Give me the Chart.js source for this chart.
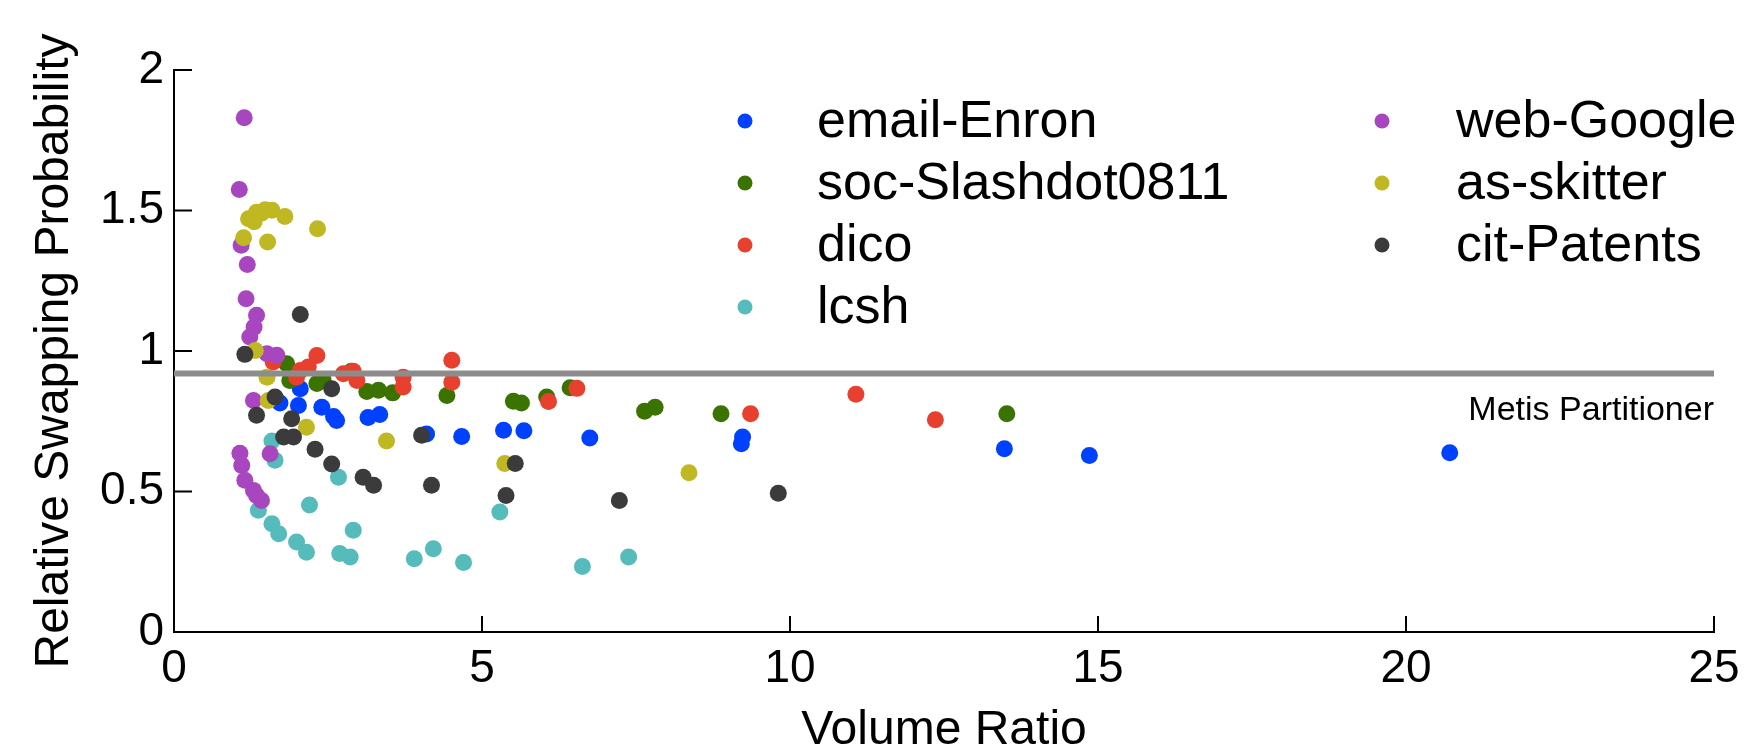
<!DOCTYPE html>
<html>
<head>
<meta charset="utf-8">
<script src="https://cdn.jsdelivr.net/npm/chart.js@4.4.0/dist/chart.umd.min.js"></script>
<style>
  body { margin: 0; background: #fff; }
  #wrap { width: 1759px; height: 751px; }
</style>
</head>
<body>
<div id="wrap"><canvas id="myChart" width="1759" height="751"></canvas></div>
<script>
// series: [volume ratio, relative swapping probability]
const enron = [
  [1.72, 0.815], [2.02, 0.806], [2.05, 0.866], [2.40, 0.80], [2.59, 0.767], [2.64, 0.753],
  [3.15, 0.763], [3.34, 0.774], [4.10, 0.705], [4.67, 0.696], [5.35, 0.718], [5.68, 0.716],
  [6.75, 0.690], [9.21, 0.670], [9.23, 0.694], [13.48, 0.652], [14.86, 0.628], [20.71, 0.638]
];
const slashdot = [
  [1.83, 0.955], [1.88, 0.895], [2.32, 0.884], [2.42, 0.897], [2.88, 0.928], [3.13, 0.856],
  [3.32, 0.860], [3.55, 0.851], [4.43, 0.842], [5.51, 0.821], [5.64, 0.815], [6.05, 0.836],
  [6.43, 0.869], [7.64, 0.786], [7.81, 0.800], [8.88, 0.777], [13.52, 0.777]
];
const dico = [
  [1.61, 0.961], [1.99, 0.907], [2.05, 0.931], [2.18, 0.943], [2.32, 0.984], [2.75, 0.919],
  [2.91, 0.928], [2.97, 0.895], [3.72, 0.907], [3.72, 0.872], [4.51, 0.967], [4.51, 0.889],
  [6.08, 0.820], [6.54, 0.867], [9.36, 0.777], [11.07, 0.846], [12.36, 0.755]
];
const lcsh = [
  [1.37, 0.433], [1.59, 0.385], [1.59, 0.680], [1.64, 0.611], [1.70, 0.350], [1.99, 0.320],
  [2.15, 0.284], [2.20, 0.452], [2.67, 0.551], [2.69, 0.279], [2.86, 0.267], [2.91, 0.362],
  [3.90, 0.261], [4.21, 0.296], [4.70, 0.247], [5.29, 0.427], [6.63, 0.233], [7.38, 0.267]
];
const webGoogle = [
  [1.14, 1.830], [1.06, 1.575], [1.09, 1.376], [1.19, 1.308], [1.17, 1.186], [1.34, 1.127],
  [1.30, 1.085], [1.23, 1.050], [1.51, 0.990], [1.67, 0.985], [1.29, 0.824], [1.07, 0.636],
  [1.10, 0.593], [1.15, 0.540], [1.29, 0.504], [1.34, 0.486], [1.42, 0.468], [1.56, 0.634]
];
const skitter = [
  [1.13, 1.403], [1.21, 1.471], [1.30, 1.460], [1.34, 1.494], [1.42, 1.490], [1.48, 1.503],
  [1.59, 1.501], [1.80, 1.479], [1.52, 1.388], [2.33, 1.435], [1.32, 1.002], [1.51, 0.907],
  [1.53, 0.824], [2.15, 0.729], [3.45, 0.680], [5.37, 0.600], [8.36, 0.567]
];
const patents = [
  [2.05, 1.130], [1.15, 0.988], [1.64, 0.836], [2.56, 0.866], [1.34, 0.771], [1.91, 0.759],
  [1.78, 0.694], [1.94, 0.694], [2.29, 0.650], [2.56, 0.598], [3.07, 0.551], [3.24, 0.522],
  [4.02, 0.700], [4.18, 0.522], [5.54, 0.600], [5.39, 0.486], [7.23, 0.468], [9.81, 0.494]
];

const names = ["email-Enron", "soc-Slashdot0811", "dico", "lcsh", "web-Google", "as-skitter", "cit-Patents"];
const colors = ["#0040ff", "#3a7300", "#e8402e", "#55bbbb", "#a846c0", "#c0b822", "#3b3b3b"];
const series = [enron, slashdot, dico, lcsh, webGoogle, skitter, patents];

const metisLevel = 0.92;
const metisLabel = "Metis Partitioner";
const xTicks = [0, 5, 10, 15, 20, 25];
const yTicks = [0, 0.5, 1, 1.5, 2];

Chart.defaults.font.family = "'Liberation Sans', Arial, Helvetica, sans-serif";
Chart.defaults.color = "#000";

let datasets = series.map((pts, i) => ({
  label: names[i],
  data: pts.map((p) => ({ x: p[0], y: p[1] })),
  pointRadius: 8.5,
  pointHoverRadius: 8.5,
  pointBackgroundColor: colors[i],
  pointBorderWidth: 0,
  showLine: false,
  order: series.length - i, // later series on top, like the original
}));

datasets.push({
  label: metisLabel,
  data: [{ x: xTicks[0], y: metisLevel }, { x: xTicks[xTicks.length - 1], y: metisLevel }],
  showLine: true,
  borderColor: "#8c8c8c",
  borderWidth: 6,
  pointRadius: 0,
  order: -1,
});

// ticks pointing into the plot, plus the legend and line label
const extras = {
  id: "extras",
  afterDraw(chart) {
    const ctx = chart.ctx;
    const xs = chart.scales.x;
    const ys = chart.scales.y;
    ctx.save();
    ctx.strokeStyle = "#000";
    ctx.lineWidth = 2;
    xTicks.forEach((v) => {
      const px = xs.getPixelForValue(v);
      ctx.beginPath();
      ctx.moveTo(px, ys.bottom);
      ctx.lineTo(px, ys.bottom - 16);
      ctx.stroke();
    });
    yTicks.forEach((v) => {
      const py = ys.getPixelForValue(v);
      ctx.beginPath();
      ctx.moveTo(xs.left, py);
      ctx.lineTo(xs.left + 18, py);
      ctx.stroke();
    });

    // legend, two columns
    ctx.font = "52px 'Liberation Sans', Arial, sans-serif";
    ctx.textBaseline = "middle";
    ctx.textAlign = "left";
    names.forEach((n, i) => {
      const col = i < 4 ? 0 : 1;
      const row = i < 4 ? i : i - 4;
      const mx = col === 0 ? 745 : 1382;
      const tx = col === 0 ? 817 : 1456;
      const y = 121 + row * 62;
      ctx.fillStyle = colors[i];
      ctx.beginPath();
      ctx.arc(mx, y, 7.5, 0, Math.PI * 2);
      ctx.fill();
      ctx.fillStyle = "#000";
      ctx.fillText(n, tx, y + 2);
    });

    ctx.font = "34px 'Liberation Sans', Arial, sans-serif";
    ctx.textAlign = "right";
    ctx.fillText(metisLabel, xs.right, ys.getPixelForValue(metisLevel) + 37);
    ctx.restore();
  },
};

new Chart(document.getElementById("myChart"), {
  type: "scatter",
  data: { datasets: datasets },
  options: {
    responsive: false,
    animation: false,
    devicePixelRatio: 1,
    events: [],
    layout: { autoPadding: false, padding: { top: 70, right: 45, left: 0, bottom: 0 } },
    plugins: { legend: { display: false }, tooltip: { enabled: false } },
    scales: {
      x: {
        type: "linear",
        min: xTicks[0],
        max: xTicks[xTicks.length - 1],
        ticks: { stepSize: 5, font: { size: 46 }, padding: 10, maxRotation: 0 },
        grid: { display: true, drawOnChartArea: false, drawTicks: false },
        border: { display: true, color: "#000", width: 2 },
        title: {
          display: true,
          text: "Volume Ratio",
          font: { size: 48, lineHeight: 0.86 },
          padding: { top: 0, bottom: 0 },
        },
        afterFit(scale) {
          scale.height = 119;
          scale.paddingLeft = 0;
          scale.paddingRight = 0;
        },
      },
      y: {
        type: "linear",
        min: yTicks[0],
        max: yTicks[yTicks.length - 1],
        ticks: {
          stepSize: 0.5,
          font: { size: 46 },
          padding: 10,
          callback: (v) => String(+v),
        },
        grid: { display: true, drawOnChartArea: false, drawTicks: false },
        border: { display: true, color: "#000", width: 2 },
        title: {
          display: true,
          text: "Relative Swapping Probability",
          font: { size: 48, lineHeight: 1.2 },
          padding: { top: 26, bottom: 0 },
        },
        afterFit(scale) {
          scale.width = 174;
          scale.paddingTop = 0;
          scale.paddingBottom = 0;
        },
      },
    },
  },
  plugins: [extras],
});
</script>
</body>
</html>
